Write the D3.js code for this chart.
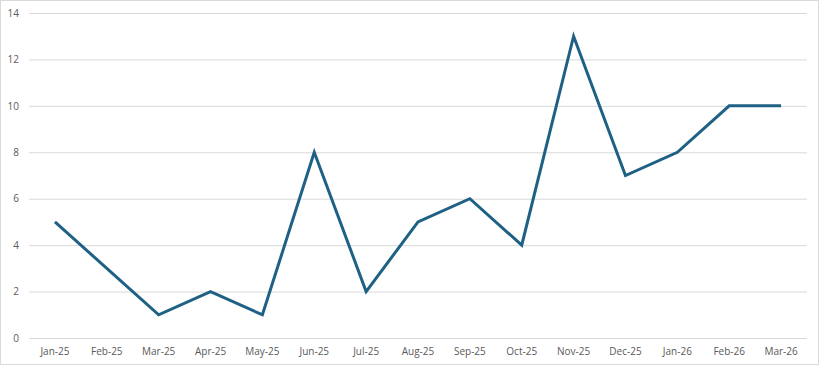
<!DOCTYPE html>
<html>
<head>
<meta charset="utf-8">
<script src="https://cdn.jsdelivr.net/npm/d3@7"></script>
<style>
  body { margin: 0; background: #fff; }
  text { font-family: "Open Sans", "Liberation Sans", sans-serif; }
</style>
</head>
<body>
<div id="chart"></div>
<script>
const months = ["Jan-25", "Feb-25", "Mar-25", "Apr-25", "May-25", "Jun-25", "Jul-25", "Aug-25",
  "Sep-25", "Oct-25", "Nov-25", "Dec-25", "Jan-26", "Feb-26", "Mar-26"];
const counts = [5, 3, 1, 2, 1, 8, 2, 5, 6, 4, 13, 7, 8, 10, 10];
const yTicks = [0, 2, 4, 6, 8, 10, 12, 14];

const W = 820, H = 366;
const margin = {top: 13, right: 13, bottom: 28, left: 29};
const width = W - margin.left - margin.right;
const height = H - margin.top - margin.bottom;

const svg = d3.select("#chart").append("svg")
  .attr("width", W)
  .attr("height", H);

// outer frame
svg.append("rect")
  .attr("x", 0.5).attr("y", 0.5)
  .attr("width", W - 2).attr("height", H - 2)
  .attr("fill", "#fff")
  .attr("stroke", "#d9d9d9");

const g = svg.append("g")
  .attr("transform", `translate(${margin.left},${margin.top})`);

const x = d3.scaleBand().domain(months).range([0, width]);
const y = d3.scaleLinear().domain([0, 14]).range([height, 0]);

// gridlines
g.append("g")
  .call(d3.axisLeft(y).tickValues(yTicks).tickSize(-width).tickFormat(""))
  .call(a => a.select(".domain").remove())
  .call(a => a.selectAll("line").attr("stroke", "#d9d9d9"));

// y labels
g.append("g")
  .call(d3.axisLeft(y).tickValues(yTicks).tickSize(0).tickPadding(10))
  .call(a => a.select(".domain").remove())
  .call(a => a.selectAll("text").attr("fill", "#595959").style("font-size", "10px"));

// x labels
g.append("g")
  .attr("transform", `translate(0,${height})`)
  .call(d3.axisBottom(x).tickSize(0).tickPadding(10))
  .call(a => a.select(".domain").remove())
  .call(a => a.selectAll("text").attr("fill", "#595959").style("font-size", "10px"));

const line = d3.line()
  .x((d, i) => x(months[i]) + x.bandwidth() / 2)
  .y(d => y(d));

g.append("path")
  .datum(counts)
  .attr("fill", "none")
  .attr("stroke", "#1f6184")
  .attr("stroke-width", 3)
  .attr("stroke-linejoin", "miter")
  .attr("d", line);
</script>
</body>
</html>
